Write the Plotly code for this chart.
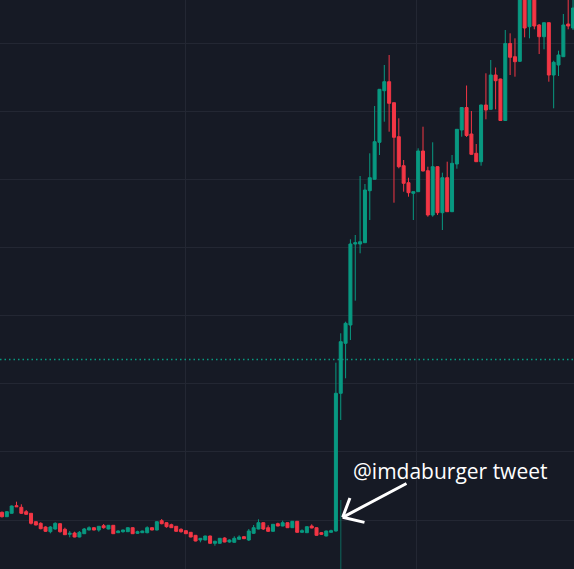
import plotly.graph_objects as go

# price units: arbitrary (chart is an unlabelled TradingView crop)
opens = [56.7,52.3,55.7,63.3,61.7,57.3,55.7,47.3,45.7,42.0,
         37.3,40.0,45.3,39.7,34.7,36.0,32.0,35.3,39.0,41.3,
         39.0,43.3,40.0,43.7,36.3,37.3,37.3,41.3,35.7,36.3,
         36.3,41.3,39.0,48.3,46.3,44.3,42.7,39.7,38.3,36.7,
         33.7,29.0,29.0,33.0,25.7,25.7,31.0,27.0,26.7,29.7,
         32.3,29.0,35.7,40.0,46.3,41.3,37.7,45.3,43.0,46.3,
         41.3,47.7,36.7,36.3,43.0,41.3,36.3,33.0,36.7,38.0,
         175.7,225.7,244.0,325.0,325.0,326.3,378.3,389.7,426.7,478.3,
         487.3,466.3,432.3,403.3,386.3,375.7,377.3,418.0,398.3,354.0,
         402.3,356.3,391.3,357.3,405.0,439.0,461.5,435.0,415.7,407.3,
         464.0,459.7,494.0,490.0,448.5,525.5,512.3,507.7,577.0,542.3,
         579.0,544.0,532.3,546.3,494.0,504.0,512.3,545.0,541.0]
highs = [57.5,58.0,63.5,67.3,64.7,59.0,56.0,47.7,46.7,42.7,
         43.0,46.7,45.7,41.3,38.0,37.3,38.0,41.0,42.7,41.7,
         43.0,45.0,44.0,44.0,38.7,39.3,41.7,41.7,38.3,38.3,
         42.7,41.7,47.7,50.0,46.7,45.3,43.0,40.7,38.7,37.0,
         34.0,31.0,33.3,33.3,28.3,31.0,31.7,29.7,32.7,33.7,
         33.0,40.0,44.0,49.7,46.7,43.7,45.0,46.3,48.3,46.7,
         48.0,48.0,39.7,42.7,44.7,41.7,37.0,38.3,39.3,206.3,
         235.7,247.3,329.7,334.0,393.0,385.0,415.7,463.0,480.0,504.0,
         514.0,466.5,450.7,409.0,391.3,377.5,420.7,442.3,402.3,426.7,
         402.7,396.3,407.3,414.0,440.0,461.7,483.5,458.0,425.0,464.3,
         495.7,509.0,501.5,490.3,539.0,535.7,530.7,584.0,581.0,583.0,
         581.0,545.0,546.3,546.5,508.3,518.3,555.0,580.0,580.0]
lows = [51.5,52.0,55.5,62.0,55.0,54.3,44.5,43.7,39.7,37.0,
        35.7,39.3,36.3,34.0,31.7,31.7,31.7,35.0,38.7,38.7,
        37.3,40.3,39.7,35.0,36.0,36.3,37.0,35.0,35.0,36.0,
        35.7,38.7,38.7,44.7,41.3,41.0,37.3,36.3,35.0,31.7,
        27.7,26.7,28.7,25.3,23.3,25.3,26.7,26.3,26.3,29.0,
        30.0,28.0,35.0,39.7,39.0,37.0,37.3,42.7,42.7,41.0,
        41.0,36.3,36.3,36.0,40.7,33.3,34.0,32.7,36.3,37.5,
        149.0,190.7,229.0,268.3,315.7,326.0,349.0,389.5,414.0,447.3,
        437.3,366.3,400.7,377.3,372.3,349.0,377.0,397.7,352.3,352.3,
        354.0,339.0,357.0,357.0,400.3,432.3,432.0,414.3,407.0,403.3,
        449.7,459.5,459.7,448.3,448.0,494.0,492.3,507.0,531.7,530.7,
        539.7,515.0,519.7,487.3,460.7,493.0,512.0,539.7,539.0]
closes = [52.3,57.3,63.0,62.3,55.7,54.7,45.7,44.0,40.3,37.7,
          42.0,45.7,37.3,34.3,35.7,32.0,36.7,40.0,41.3,39.0,
          42.7,41.3,43.7,35.3,38.0,39.0,41.3,35.3,37.3,38.0,
          41.3,39.0,47.3,45.3,42.3,41.3,37.7,37.3,35.3,32.0,
          28.0,30.7,33.0,25.7,27.7,30.7,27.0,29.0,30.7,32.0,
          30.3,38.0,41.3,46.3,40.0,37.7,44.7,43.0,46.3,41.3,
          47.7,36.7,38.3,42.3,41.0,33.7,34.7,38.0,38.3,175.7,
          227.3,245.7,325.0,326.3,327.3,379.0,391.3,427.3,479.7,487.3,
          465.7,431.7,402.3,385.7,376.3,377.3,418.0,398.0,354.0,402.3,
          356.3,391.3,357.3,405.7,439.7,461.5,433.5,414.7,407.3,464.0,
          459.0,494.0,488.3,448.5,525.5,511.7,507.3,577.0,541.0,579.0,
          543.0,532.3,546.3,494.0,506.7,514.0,544.0,543.0,561.0]
idx = list(range(len(opens)))

# faint vertical marker line below the breakout candle
marker_x = [70, 70]
marker_y = [69.0, -20.0]

ref_level = 209.5          # dotted horizontal level
tip_x, tip_y = 70.4, 51.7  # arrow tip
label_x, label_y = 92.6, 98.0
label_text = "@imdaburger tweet"

BG = "#161a25"
GRID = "#232733"
GREEN = "#089981"
RED = "#f23645"

fig = go.Figure()
fig.add_trace(go.Scatter(x=marker_x, y=marker_y, mode="lines",
                         line=dict(color="rgba(8,153,129,0.42)", width=1.5),
                         hoverinfo="skip", showlegend=False))
fig.add_trace(go.Candlestick(
    x=idx, open=opens, high=highs, low=lows, close=closes,
    increasing=dict(line=dict(color=GREEN, width=1), fillcolor=GREEN),
    decreasing=dict(line=dict(color=RED, width=1), fillcolor=RED),
    whiskerwidth=0, showlegend=False, hoverinfo="skip"))

fig.add_hline(y=ref_level, line=dict(color=GREEN, width=1.3, dash="1.5px,3px"))

anns = [dict(x=label_x, y=label_y, xref="x", yref="y", text=label_text,
             showarrow=False, font=dict(family="Open Sans", size=21, color="white"))]
for ax, ay in [(65.3, -34.6), (8.0, -21.3), (23.3, 5.4)]:
    anns.append(dict(x=tip_x, y=tip_y, xref="x", yref="y", text=" ",
                     font=dict(size=1), showarrow=True, arrowhead=0,
                     arrowwidth=3, arrowcolor="white", ax=ax, ay=ay,
                     axref="pixel", ayref="pixel", standoff=0, startstandoff=0))

fig.update_layout(
    width=574, height=569, margin=dict(l=0, r=0, t=0, b=0),
    paper_bgcolor=BG, plot_bgcolor=BG, showlegend=False,
    boxgap=0.38, boxgroupgap=0,
    annotations=anns,
    xaxis=dict(range=[-0.41, 118.2], showticklabels=False, zeroline=False,
               rangeslider=dict(visible=False), showgrid=True, gridcolor=GRID,
               gridwidth=1, tick0=38.0, dtick=47.74, ticks="", showline=False),
    yaxis=dict(range=[0, 569], showticklabels=False, zeroline=False,
               showgrid=True, gridcolor=GRID, gridwidth=1,
               tick0=49, dtick=68.14, ticks="", showline=False),
)
fig.write_html("out.html")
